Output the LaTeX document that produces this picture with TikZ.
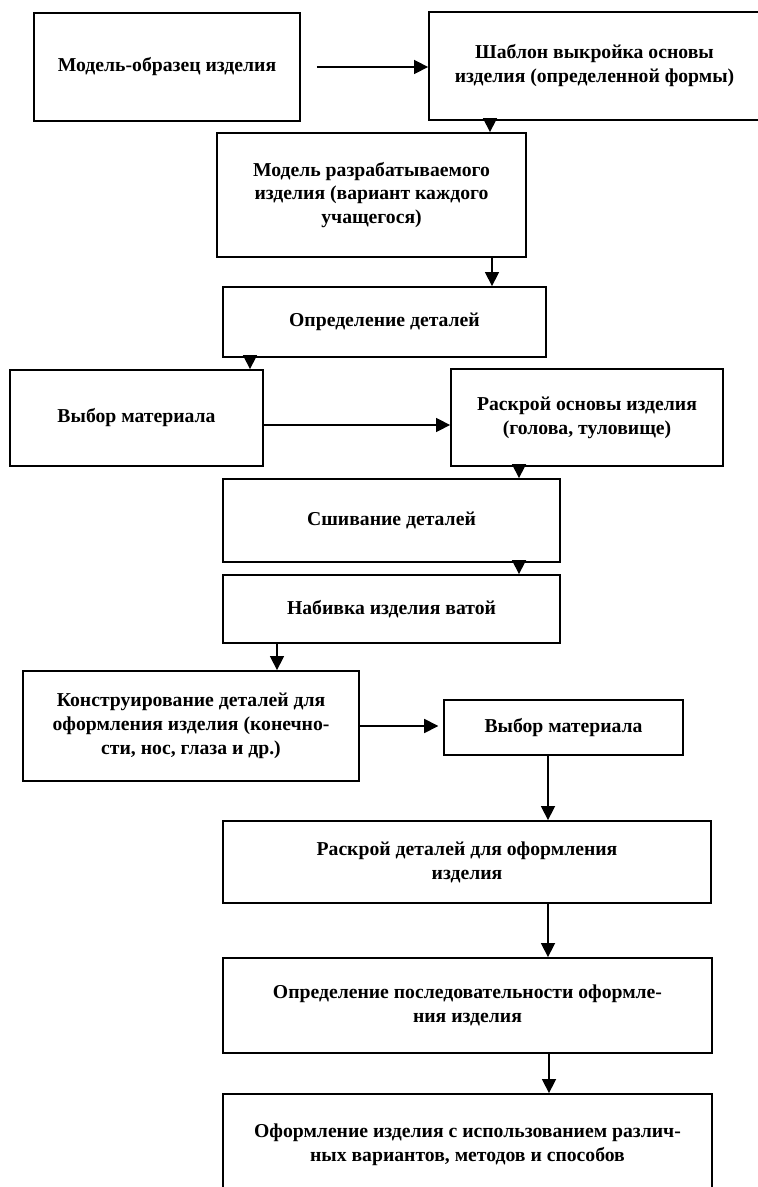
\documentclass[tikz,border=0pt]{standalone}
\usepackage{fontspec}
\setmainfont{Liberation Serif}
\usetikzlibrary{positioning,arrows.meta}
\tikzset{
  stagebox/.style={draw,line width=1.3pt,align=center,inner sep=2pt,
    font=\fontsize{14}{17}\selectfont\bfseries},
  flowarr/.style={line width=1.1pt,-{Triangle[length=10pt,width=10pt]}},
}
% box from its corners (x1,y1)-(x2,y2), in pixels of the page
\newcommand{\stagenode}[6]{%
  \node[stagebox,minimum width={(#4-#2)*0.025cm},minimum height={(#5-#3)*0.025cm}]
    (#1) at ({(#2+#4)/2},{(#3+#5)/2}) {#6};
}

\begin{document}
\begin{tikzpicture}[x=0.025cm,y=-0.025cm]
  \useasboundingbox (0,0) rectangle (757,1187);
  \stagenode{model}{34}{13}{300}{121}{Модель-образец изделия}
  \stagenode{pattern}{429}{12}{760}{120}{Шаблон выкройка основы\\изделия (определенной формы)}
  \stagenode{design}{217}{133}{526}{257}{Модель разрабатываемого\\изделия (вариант каждого\\учащегося)}
  \stagenode{parts}{223}{287}{546}{357}{Определение деталей}
  \stagenode{fabric}{10}{370}{263}{466}{Выбор материала}
  \stagenode{cut}{451}{369}{723}{466}{Раскрой основы изделия\\(голова, туловище)}
  \stagenode{sew}{223}{479}{560}{562}{Сшивание деталей}
  \stagenode{stuff}{223}{575}{560}{643}{Набивка изделия ватой}
  \stagenode{construct}{23}{671}{359}{781}{Конструирование деталей для\\оформления изделия (конечно-\\сти, нос, глаза и др.)}
  \stagenode{fabricb}{444}{700}{683}{755}{Выбор материала}
  \stagenode{cutb}{223}{821}{711}{903}{Раскрой деталей для оформления\\изделия}
  \stagenode{order}{223}{958}{712}{1053}{Определение последовательности оформле-\\ния изделия}
  \stagenode{finish}{223}{1094}{712}{1195}{Оформление изделия с использованием различ-\\ных вариантов, методов и способов}
  % connectors
  \draw[flowarr] ([xshift=0.4cm]model.east) -- (pattern.west |- model.east);
  \draw[flowarr] (pattern.south -| 490,0) -- (design.north -| 490,0);
  \draw[flowarr] (design.south -| 492,0) -- (parts.north -| 492,0);
  \draw[flowarr] (parts.south -| 250,0) -- (fabric.north -| 250,0);
  \draw[flowarr] (fabric.east |- 0,425) -- (cut.west |- 0,425);
  \draw[flowarr] (cut.south -| 519,0) -- (sew.north -| 519,0);
  \draw[flowarr] (sew.south -| 519,0) -- (stuff.north -| 519,0);
  \draw[flowarr] (stuff.south -| 277,0) -- (construct.north -| 277,0);
  \draw[flowarr,shorten >=0.12cm] (construct.east) -- (fabricb.west |- construct.east);
  \draw[flowarr] (fabricb.south -| 548,0) -- (cutb.north -| 548,0);
  \draw[flowarr] (cutb.south -| 548,0) -- (order.north -| 548,0);
  \draw[flowarr] (order.south -| 549,0) -- (finish.north -| 549,0);
\end{tikzpicture}
\end{document}
